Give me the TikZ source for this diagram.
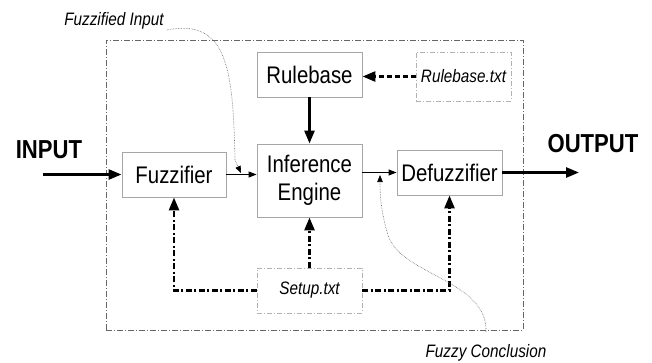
\documentclass[tikz,border=0pt]{standalone}
\usepackage{fontspec}
\setmainfont[FakeStretch=0.85]{Liberation Sans}
\usetikzlibrary{arrows.meta}
\begin{document}
\begin{tikzpicture}[x=1pt,y=-1pt,
  box/.style={draw=gray!70,line width=0.9pt,minimum width=105pt,inner sep=0pt,font=\fontsize{24}{28}\selectfont,align=center},
  filebox/.style={draw=gray!60,line width=0.8pt,dash pattern=on 5pt off 2pt on 1pt off 2pt,minimum width=95pt,inner sep=0pt,font=\itshape\fontsize{18}{20}\selectfont},
  bigarrow/.style={line width=2.6pt,-{Triangle[length=13pt,width=10pt]}},
  thinarrow/.style={line width=0.9pt,-{Triangle[length=8pt,width=6pt]}},
  dasharrow/.style={line width=2.6pt,dash pattern=on 6pt off 2.5pt on 2pt off 2.5pt,-{Triangle[length=13pt,width=10pt]}},
  dashedarrow/.style={line width=2.6pt,dash pattern=on 5pt off 3pt,-{Triangle[length=13pt,width=10pt]}},
  annot/.style={line width=0.6pt,densely dotted,draw=gray!80!black,-{Triangle[length=7pt,width=5.5pt,color=black]}},
  biglabel/.style={font=\bfseries\fontsize{26}{28}\selectfont,inner sep=0pt,anchor=base},
  smalllabel/.style={font=\itshape\fontsize{18}{20}\selectfont,inner sep=0pt,anchor=base}]
\useasboundingbox (0,0) rectangle (652,362);
\fill[white] (0,0) rectangle (652,362);
% outer frame
\node[draw=gray!80!black,line width=0.7pt,dash pattern=on 6pt off 2pt on 1pt off 2pt,minimum width=417pt,minimum height=290pt,inner sep=0pt] (frame) at (314.5,185) {};
% blocks
\node[box,minimum height=45pt] (rulebase) at (309.5,74.5) {Rulebase};
\node[filebox,minimum width=95pt,minimum height=49pt] (rbtxt) at (463.5,76.5) {Rulebase.txt};
\node[box,minimum width=104pt,minimum height=45pt] (fuzz) at (174,174.5) {Fuzzifier};
\node[box,minimum height=73pt] (inf) at (309.5,180.5) {Inference\\Engine};
\node[box,minimum height=45pt] (defuzz) at (449.5,172.5) {Defuzzifier};
\node[filebox,minimum width=105pt,minimum height=45pt] (setup) at (309.5,290.5) {Setup.txt};
% labels
\node[biglabel] (inlab) at (49,158) {INPUT};
\node[biglabel] (outlab) at (593,152) {OUTPUT};
\node[smalllabel] (fi) at (114,25) {Fuzzified Input};
\node[smalllabel] (fc) at (486,357) {Fuzzy Conclusion};
\coordinate (inStart) at (43,174.5);
\coordinate (outEnd) at (579,172.5);
% main arrows
\draw[bigarrow] (inStart) -- (fuzz.west);
\draw[bigarrow] (defuzz.east) -- (outEnd);
\draw[bigarrow] (rulebase.south) -- (inf.north);
\draw[thinarrow] (fuzz.east) -- (fuzz.east -| inf.west);
\draw[thinarrow] (defuzz.west -| inf.east) -- (defuzz.west);
\draw[dashedarrow] (rbtxt.west) -- (rbtxt.west -| rulebase.east);
\draw[dasharrow] (setup.west) -| (fuzz.south);
\draw[dasharrow] (setup.north) -- (inf.south);
\draw[dasharrow] (setup.east) -| (defuzz.south);
% annotation curves
\coordinate (fiTip) at (241,173);
\coordinate (fcStart) at (486,332);
\coordinate (fcTip) at (380,175);
\draw[annot] ([xshift=3pt,yshift=-5pt]fi.base east) .. controls (228,18) and (233,70) .. (235,160) -- (fiTip);
\draw[annot] (fcStart) .. controls (488,280) and (400,275) .. (388,235) .. controls (382,215) and (380,200) .. (fcTip);
\end{tikzpicture}
\end{document}
